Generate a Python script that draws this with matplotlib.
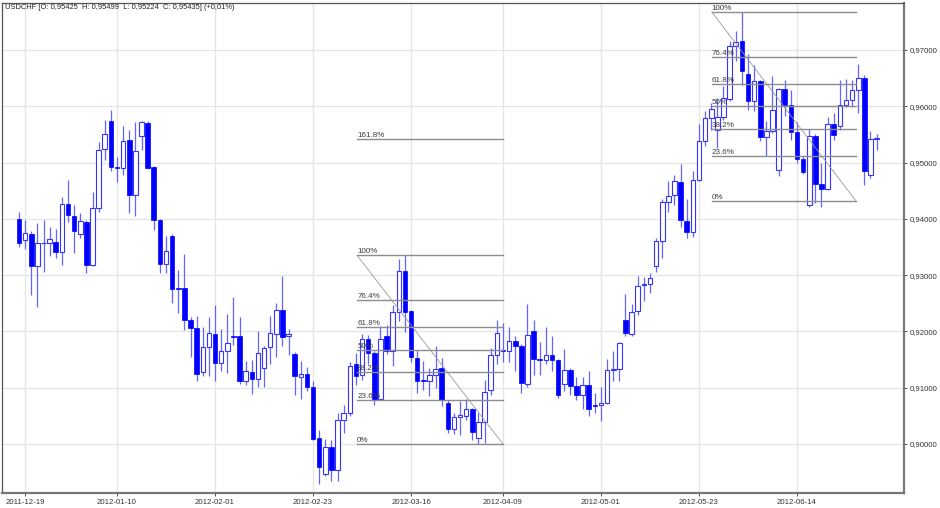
import numpy as np
import pandas as pd
import matplotlib
matplotlib.use("Agg")
import matplotlib.pyplot as plt

plt.rcParams['font.family'] = ['Liberation Sans', 'DejaVu Sans']

symbol = "USDCHF"
holidays = ["2011-12-26", "2012-04-06"]
first_day, last_day = "2011-12-16", "2012-07-03"

opens = [0.9400, 0.93624, 0.93736, 0.93168, 0.93565, 0.93576, 0.93589, 0.93404, 0.94264, 0.9405,
         0.93731, 0.93949, 0.93185, 0.94193, 0.95241, 0.95743, 0.94921, 0.949, 0.95406, 0.9442,
         0.95477, 0.95703, 0.94921, 0.93979, 0.932, 0.93701, 0.92764, 0.92771, 0.92196, 0.92061,
         0.91279, 0.91723, 0.91954, 0.91439, 0.91652, 0.91924, 0.91919, 0.91125, 0.91279, 0.9116,
         0.9135, 0.91723, 0.9196, 0.92386, 0.91919, 0.91604, 0.91196, 0.91249, 0.91013, 0.90107,
         0.89467, 0.89952, 0.89531, 0.90432, 0.90551, 0.91427, 0.91231, 0.91865, 0.91617, 0.90799,
         0.91924, 0.91645, 0.92338, 0.93066, 0.92356, 0.91528, 0.91137, 0.91125, 0.91231, 0.9135,
         0.90728, 0.90272, 0.9048, 0.90503, 0.90622, 0.90112, 0.90384, 0.90956, 0.91574, 0.91666,
         0.91654, 0.91826, 0.91734, 0.91062, 0.92, 0.9151, 0.91498, 0.91586, 0.91498, 0.91062,
         0.91315, 0.91036, 0.90863, 0.91048, 0.90686, 0.90698, 0.90725, 0.9132, 0.91329, 0.92196,
         0.91954, 0.92356, 0.92818, 0.92842, 0.93155, 0.93612, 0.94292, 0.94416, 0.94654, 0.93967,
         0.93766, 0.94695, 0.95388, 0.95791, 0.95584, 0.95809, 0.96129, 0.97063, 0.97165, 0.96578,
         0.96086, 0.96442, 0.95454, 0.95566, 0.94861, 0.96307, 0.96015, 0.95536, 0.95068, 0.94239,
         0.95465, 0.94624, 0.94535, 0.9569, 0.95642, 0.96028, 0.96117, 0.96294, 0.96495, 0.94784,
         0.95425]
highs = [0.94122, 0.93985, 0.93777, 0.93926, 0.93985, 0.9386, 0.9382, 0.94388, 0.9469, 0.94251,
         0.94104, 0.93985, 0.9447, 0.95358, 0.95761, 0.95939, 0.95095, 0.95642, 0.95575, 0.95726,
         0.95738, 0.95731, 0.94944, 0.93997, 0.93695, 0.93736, 0.93096, 0.93375, 0.92256, 0.92267,
         0.92079, 0.92256, 0.92475, 0.92043, 0.92315, 0.92604, 0.92256, 0.91467, 0.91498, 0.92,
         0.91734, 0.92267, 0.92505, 0.9299, 0.92043, 0.91627, 0.91467, 0.91361, 0.91112, 0.90254,
         0.90089, 0.90076, 0.90551, 0.90686, 0.9145, 0.91617, 0.9196, 0.91942, 0.91645, 0.92102,
         0.92119, 0.92475, 0.93287, 0.93351, 0.92386, 0.91675, 0.91467, 0.9135, 0.91734, 0.91528,
         0.90787, 0.90551, 0.90757, 0.90799, 0.9064, 0.90551, 0.9113, 0.91706, 0.92203, 0.92155,
         0.92079, 0.91924, 0.91773, 0.92492, 0.92208, 0.91805, 0.92075, 0.91924, 0.91506, 0.9169,
         0.9135, 0.9119, 0.91196, 0.91302, 0.90899, 0.91009, 0.91503, 0.91649, 0.91817, 0.9267,
         0.92492, 0.9299, 0.9296, 0.93038, 0.9366, 0.94352, 0.94665, 0.94784, 0.9498, 0.94352,
         0.94843, 0.95685, 0.95921, 0.96051, 0.96152, 0.96353, 0.97152, 0.9733, 0.97667, 0.96934,
         0.96738, 0.96472, 0.95743, 0.96543, 0.96324, 0.96472, 0.96282, 0.95713, 0.95109, 0.95596,
         0.95507, 0.94992, 0.95809, 0.9588, 0.96472, 0.96484, 0.96472, 0.96756, 0.96561, 0.95553,
         0.95499]
lows = [0.93493, 0.93464, 0.92652, 0.92434, 0.93049, 0.93333, 0.93304, 0.93185, 0.93944, 0.93386,
        0.93665, 0.93038, 0.93159, 0.94122, 0.95038, 0.94855, 0.94647, 0.94784, 0.94097, 0.94043,
        0.95228, 0.94885, 0.93807, 0.93038, 0.93038, 0.92505, 0.92327, 0.92031, 0.91539, 0.91125,
        0.91201, 0.91201, 0.91125, 0.9129, 0.91261, 0.91764, 0.91071, 0.91048, 0.90881, 0.91013,
        0.91013, 0.91414, 0.91539, 0.91734, 0.91586, 0.90863, 0.90805, 0.90947, 0.90064, 0.89295,
        0.89424, 0.89336, 0.89336, 0.90195, 0.9049, 0.91041, 0.91142, 0.91427, 0.90686, 0.90775,
        0.91604, 0.91391, 0.92178, 0.91983, 0.91457, 0.90906, 0.90965, 0.90846, 0.90995, 0.90668,
        0.90195, 0.90183, 0.90165, 0.90432, 0.90064, 0.90005, 0.90018, 0.90876, 0.91414, 0.91462,
        0.91453, 0.9129, 0.90906, 0.91009, 0.91231, 0.91231, 0.91414, 0.91293, 0.90817, 0.90947,
        0.90876, 0.90782, 0.90627, 0.90503, 0.90544, 0.90401, 0.90716, 0.91125, 0.91125, 0.91915,
        0.91912, 0.92297, 0.92533, 0.92683, 0.93056, 0.93304, 0.94114, 0.94251, 0.93855, 0.9366,
        0.93677, 0.94665, 0.95299, 0.95584, 0.95259, 0.95761, 0.96086, 0.96797, 0.96383, 0.95939,
        0.95909, 0.95376, 0.95109, 0.95525, 0.94766, 0.9582, 0.95406, 0.94992, 0.94802, 0.9421,
        0.94281, 0.9421, 0.94518, 0.95406, 0.95584, 0.95987, 0.95987, 0.9588, 0.94607, 0.94726,
        0.95224]
closes = [0.93571, 0.93748, 0.93168, 0.93571, 0.93571, 0.93635, 0.93404, 0.94264, 0.94061, 0.93784,
          0.93967, 0.9318, 0.94198, 0.95228, 0.95507, 0.94914, 0.94909, 0.95388, 0.94429, 0.95207,
          0.95726, 0.94909, 0.93979, 0.932, 0.93422, 0.92754, 0.92754, 0.92196, 0.92054, 0.91249,
          0.91723, 0.91965, 0.91432, 0.91652, 0.91794, 0.91894, 0.91125, 0.9129, 0.9116, 0.9161,
          0.91698, 0.91972, 0.92381, 0.91901, 0.91954, 0.91201, 0.91237, 0.91013, 0.90089, 0.89591,
          0.89947, 0.89531, 0.90426, 0.90551, 0.91379, 0.91213, 0.91865, 0.91617, 0.90775, 0.91865,
          0.91645, 0.92338, 0.93066, 0.92338, 0.91539, 0.91125, 0.91125, 0.91231, 0.91332, 0.90775,
          0.90272, 0.9048, 0.90508, 0.90622, 0.90213, 0.90384, 0.90924, 0.91574, 0.91972, 0.91661,
          0.91826, 0.91734, 0.91084, 0.91942, 0.91503, 0.91501, 0.91586, 0.91498, 0.90863, 0.9132,
          0.9103, 0.90863, 0.91041, 0.90627, 0.9068, 0.90734, 0.91311, 0.91329, 0.91787, 0.91972,
          0.9235, 0.92812, 0.92842, 0.92949, 0.93612, 0.94292, 0.94399, 0.94665, 0.93972, 0.93766,
          0.94695, 0.95388, 0.95784, 0.95951, 0.95809, 0.96147, 0.97063, 0.97134, 0.96619, 0.96086,
          0.96442, 0.95454, 0.95566, 0.95939, 0.96307, 0.96015, 0.95548, 0.95068, 0.94832, 0.95465,
          0.94624, 0.94535, 0.9569, 0.95495, 0.96028, 0.96117, 0.96294, 0.96495, 0.94843, 0.95418,
          0.95435]
change_pct = "+0,01%"

tick_labels = ["2011-12-19", "2012-01-10", "2012-02-01", "2012-02-23", "2012-03-16",
               "2012-04-09", "2012-05-01", "2012-05-23", "2012-06-14"]
price_ticks = [0.90, 0.91, 0.92, 0.93, 0.94, 0.95, 0.96, 0.97]

# Fibonacci retracements: (start bar, end bar), (100% price, 0% price), levels
fib1_bars = (55.2, 79.0)
fib1_prices = (0.93350, 0.90000)
fib1_levels = [0, 23.6, 38.2, 50, 61.8, 76.4, 100, 161.8]
fib2_bars = (113.1, 136.6)
fib2_prices = (0.97674, 0.94322)
fib2_levels = [0, 23.6, 38.2, 50, 61.8, 76.4, 100]

# ---------------------------------------------------------------
dates = pd.bdate_range(first_day, last_day)
dates = dates[~dates.isin(pd.to_datetime(holidays))]
idx = np.arange(len(dates))
date_str = [d.strftime("%Y-%m-%d") for d in dates]
tick_pos = [date_str.index(t) for t in tick_labels]

o = np.array(opens); h = np.array(highs); l = np.array(lows); c = np.array(closes)

fig = plt.figure(figsize=(9.4, 5.08), dpi=100)
ax = fig.add_axes([2/940, 15/508, 902/940, 490/508])
ax.set_xlim(-2.78, 144.47)
ax.set_ylim(0.89130, 0.97834)

ax.set_axisbelow(True)
ax.set_xticks(tick_pos)
ax.set_xticklabels(tick_labels)
ax.set_yticks(price_ticks)
ax.yaxis.tick_right()
ax.yaxis.set_major_formatter(matplotlib.ticker.FuncFormatter(
    lambda v, p: f"{v:.5f}".replace(".", ",")))
ax.grid(True, color="#e6e6e6", lw=1.0)
ax.tick_params(axis="both", labelsize=5.6, colors="#333333", length=2.5, width=0.6, pad=2)

for sp in ["left", "top"]:
    ax.spines[sp].set_color("#555555"); ax.spines[sp].set_linewidth(0.9)
for sp in ["right", "bottom"]:
    ax.spines[sp].set_color("#777777"); ax.spines[sp].set_linewidth(1.6)

# wicks
ax.vlines(idx, l, h, color="#6464ff", lw=0.9, zorder=2)

# bodies
w = 0.75
up = c >= o
min_h = 0.00012
body_bot = np.minimum(o, c)
body_h = np.maximum(np.abs(c - o), min_h)
ax.bar(idx[up], body_h[up], w, bottom=body_bot[up], facecolor="white",
       edgecolor="#3535ff", lw=0.8, zorder=3)
ax.bar(idx[~up], body_h[~up], w, bottom=body_bot[~up], facecolor="#0000ff",
       edgecolor="#0000ff", lw=0.5, zorder=3)

def draw_fib(bars, prices, levels):
    x0, x1 = bars
    hi, lo = prices
    for lev in levels:
        y = lo + (hi - lo) * lev / 100.0
        ax.plot([x0, x1], [y, y], color="#8c8c8c", lw=1.0, zorder=4)
        ax.text(x0, y, f"{lev:g}%", fontsize=5.8, color="#3c3c3c",
                ha="left", va="bottom", zorder=5)
    ax.plot([x0, x1], [hi, lo], color="#9a9a9a", lw=0.6, zorder=4)

draw_fib(fib1_bars, fib1_prices, fib1_levels)
draw_fib(fib2_bars, fib2_prices, fib2_levels)

def fmt(v):
    return f"{v:.5f}".replace(".", ",")

title = (f"{symbol} [O: {fmt(o[-1])}  H: {fmt(h[-1])}  L: {fmt(l[-1])}  "
         f"C: {fmt(c[-1])}] ({change_pct})")
ax.text(0.0035, 0.990, title, transform=ax.transAxes, fontsize=5.4,
        color="#222222", ha="left", va="center")

fig.savefig("out.png", dpi=100)
